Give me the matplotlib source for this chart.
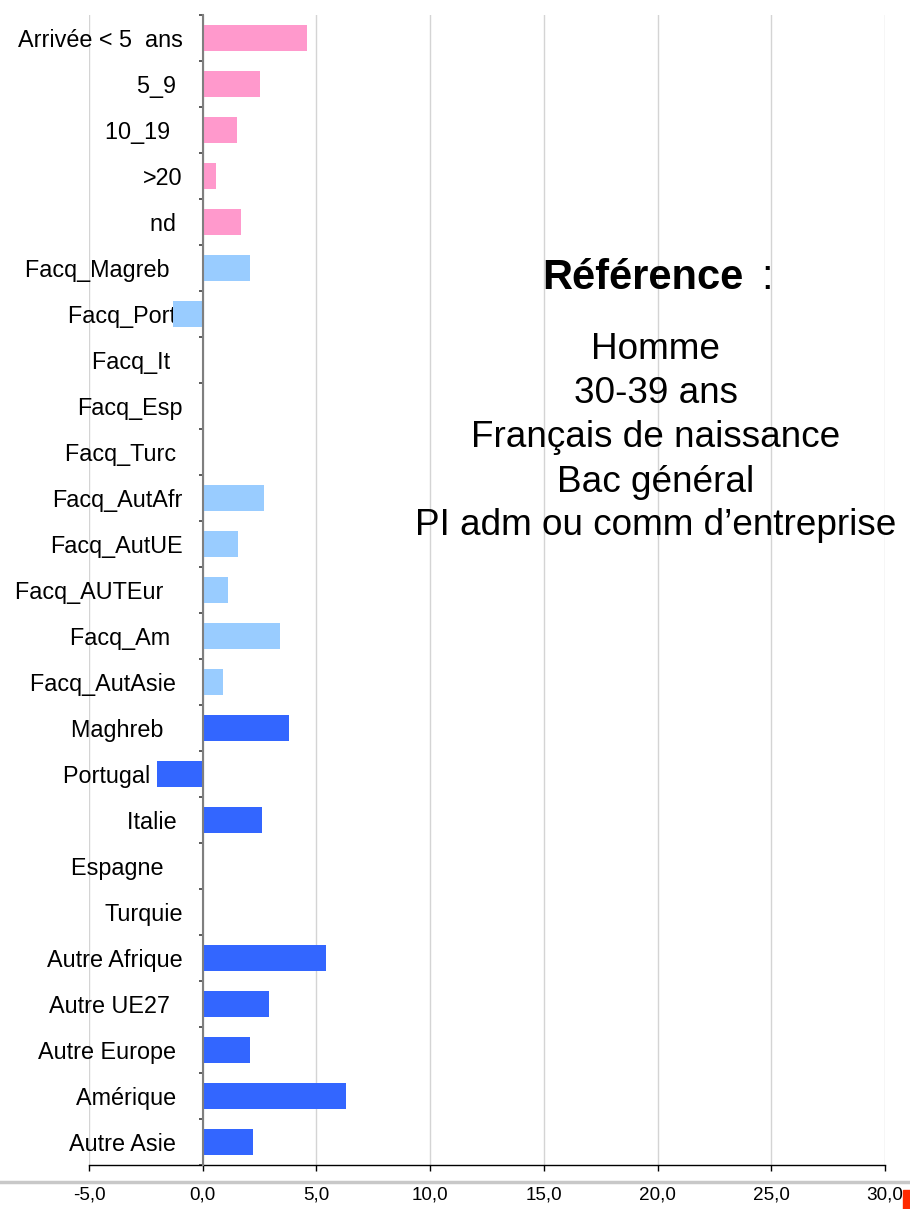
import matplotlib.pyplot as plt
import matplotlib.patches as mpatches
from matplotlib.lines import Line2D
from matplotlib.ticker import FuncFormatter

plt.rcParams['font.family'] = ['Liberation Sans', 'DejaVu Sans']

# Durée depuis l'arrivée
arrivee = ['Arrivée < 5  ans', '5_9 ', '10_19  ', '>20', 'nd ']
v_arrivee = [4.6, 2.5, 1.5, 0.6, 1.7]

# Français par acquisition, selon l'origine
facq = ['Facq_Magreb  ', 'Facq_Port ', 'Facq_It  ', 'Facq_Esp', 'Facq_Turc ',
        'Facq_AutAfr', 'Facq_AutUE', 'Facq_AUTEur   ', 'Facq_Am  ', 'Facq_AutAsie ']
v_facq = [2.1, -1.3, 0.0, 0.0, 0.0, 2.7, 1.55, 1.1, 3.4, 0.9]

# Etrangers, selon le pays
pays = ['Maghreb   ', 'Portugal     ', 'Italie ', 'Espagne   ', 'Turquie',
        'Autre Afrique', 'Autre UE27  ', 'Autre Europe ', 'Amérique ', 'Autre Asie ']
v_pays = [3.8, -2.0, 2.6, 0.0, 0.0, 5.4, 2.9, 2.1, 6.3, 2.2]

reference = ['Homme', '30-39 ans', 'Français de naissance', 'Bac général',
             'PI adm ou comm d\u2019entreprise']

labels = arrivee + facq + pays
valeurs = v_arrivee + v_facq + v_pays
couleurs = (['#FF99CC'] * len(arrivee) + ['#99CCFF'] * len(facq)
            + ['#3366FF'] * len(pays))
y = list(range(len(labels)))

W, H = 910, 1209
fig = plt.figure(figsize=(W / 100, H / 100), dpi=100)
ax = fig.add_axes([89 / W, 44 / H, 796 / W, 1150 / H])

ax.barh(y, valeurs, height=0.57, color=couleurs, zorder=2)

ax.set_xlim(-5, 30)
ax.set_ylim(len(labels) - 0.5, -0.5)

ax.set_xticks(range(-5, 31, 5))
ax.xaxis.set_major_formatter(FuncFormatter(lambda v, p: f'{v:.1f}'.replace('.', ',')))
ax.xaxis.grid(True, color='#D4D4D4', lw=1)
ax.set_axisbelow(True)
ax.tick_params(axis='x', direction='out', length=4.3, width=1, color='black',
               pad=11, labelsize=13.6)

ax.set_yticks(y)
ax.set_yticklabels(labels)
ax.set_yticks([i - 0.5 for i in range(len(labels) + 1)], minor=True)
ax.tick_params(axis='y', which='major', length=0, pad=14.4, labelsize=16.8)
ax.tick_params(axis='y', which='minor', length=3, width=1.2, color='#404040')

ax.spines['top'].set_visible(False)
ax.spines['right'].set_visible(False)
ax.spines['left'].set_position(('data', 0))
ax.spines['left'].set_color('#7F7F7F')
ax.spines['left'].set_linewidth(1.5)
ax.spines['left'].set_zorder(3)
ax.spines['bottom'].set_color('black')
ax.spines['bottom'].set_linewidth(1)

# encadré de la modalité de référence
fig.text(542 / W, 1 - 289 / H, 'Référence', ha='left', va='baseline',
         fontsize=30, fontweight='bold')
fig.text(761 / W, 1 - 289 / H, ':', ha='left', va='baseline', fontsize=30)
for ligne, yb in zip(reference, [359, 403, 447, 492, 535]):
    fig.text(656 / W, 1 - yb / H, ligne, ha='center', va='baseline', fontsize=26.6)

# bandeau bas de diapo
fig.add_artist(Line2D([0, 1], [1 - 1181.5 / H] * 2, transform=fig.transFigure,
                      color='#C8C8C8', lw=2.5))
fig.add_artist(mpatches.Rectangle((903 / W, 0), 7 / W, 19 / H, transform=fig.transFigure,
                                  color='#FF2A00'))

fig.savefig('out.png', dpi=100)
